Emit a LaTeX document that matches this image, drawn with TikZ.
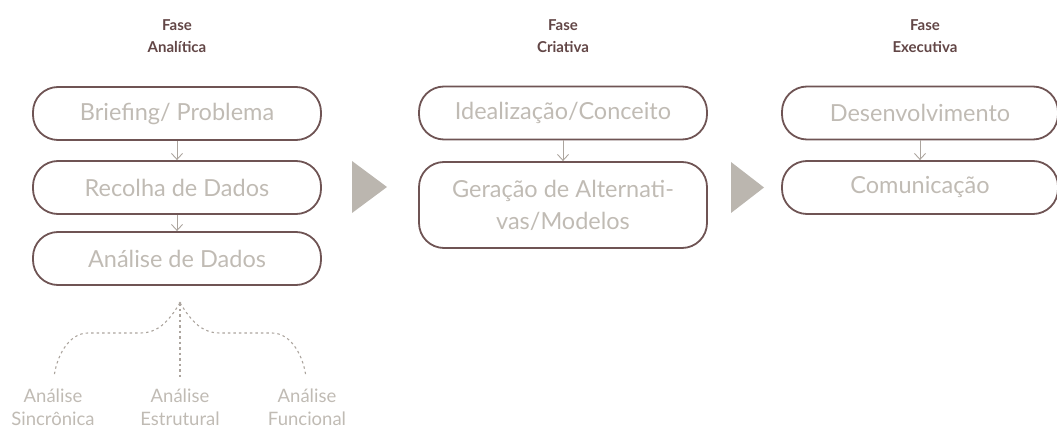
\documentclass[tikz,border=0pt]{standalone}
\usepackage{fontspec}
\setmainfont{Lato}
\usetikzlibrary{arrows.meta}

\definecolor{boxline}{RGB}{111,84,84}
\definecolor{titletext}{RGB}{98,70,70}
\definecolor{boxtext}{RGB}{192,187,180}
\definecolor{tricolor}{RGB}{187,182,175}
\definecolor{linkgray}{RGB}{172,165,158}

\tikzset{
  stage/.style={draw=boxline, line width=1.8pt, rounded corners=25pt,
    minimum width=288pt, minimum height=53pt, inner sep=0pt,
    text=boxtext, align=center, font=\fontsize{23.5}{32}\selectfont},
  phasetitle/.style={text=titletext, align=center,
    font=\bfseries\fontsize{15}{21.5}\selectfont},
  sublabel/.style={text=boxtext, align=center, anchor=north, inner sep=1pt,
    font=\fontsize{18.5}{23}\selectfont},
  link/.style={draw=linkgray, line width=0.9pt,
    -{Straight Barb[length=6pt,width=11pt]}},
  dots/.style={draw=linkgray, line width=1.1pt, dash pattern=on 2.5pt off 3pt,
    shorten >=11pt}
}

\begin{document}
\begin{tikzpicture}[x=1pt,y=-1pt]
  \useasboundingbox (0,0) rectangle (1057,430);

  %Fase analitica
  \node [phasetitle] (tA) at (177,36) {Fase\\Analítica};
  \node [stage] (brief) at (177,113.5) {Briefing/ Problema};
  \node [stage] (recolha) at (177,187.5) {Recolha de Dados};
  \node [stage] (analise) at (177,258.5) {Análise de Dados};
  \draw [link] (brief.south) -- (recolha.north);
  \draw [link] (recolha.south) -- (analise.north);

  %Tipos de analise
  \coordinate (fork) at (180,303);
  \fill [linkgray] (fork) circle (1.4pt);
  \node [sublabel] (sinc) at (53,388) {Análise\\Sincrônica};
  \node [sublabel] (estr) at (180,388) {Análise\\Estrutural};
  \node [sublabel] (func) at (307,388) {Análise\\Funcional};
  \draw [dots] (fork) .. controls (168,322) and (158,333) .. (140,333)
    -- (88,333) .. controls (68,333) and (56,358) .. (sinc.north);
  \draw [dots] (fork) -- (estr.north);
  \draw [dots] (fork) .. controls (192,322) and (202,333) .. (220,333)
    -- (272,333) .. controls (292,333) and (304,358) .. (func.north);

  %Passagem de fase
  \fill [tricolor] (352,161) -- (387,187) -- (352,213) -- cycle;
  \fill [tricolor] (731,162) -- (764,187.5) -- (731,213) -- cycle;

  %Fase criativa
  \node [phasetitle] (tC) at (563,36) {Fase\\Criativa};
  \node [stage] (ideia) at (563,113) {Idealização/Conceito};
  \node [stage, minimum height=86pt] (geracao) at (563,205)
    {Geração de Alternati-\\vas/Modelos};
  \draw [link] (ideia.south) -- (geracao.north);

  %Fase executiva
  \node [phasetitle] (tE) at (925,36) {Fase\\Executiva};
  \node [stage, minimum width=276pt] (desenv) at (920,113) {Desenvolvimento};
  \node [stage, minimum width=276pt] (comunic) at (920,187.5) {Comunicação};
  \draw [link] (desenv.south) -- (comunic.north);

\end{tikzpicture}
\end{document}
